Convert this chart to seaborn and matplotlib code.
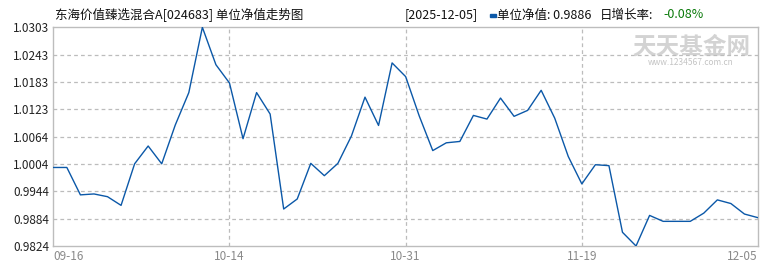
import matplotlib
matplotlib.use("Agg")
import matplotlib.pyplot as plt
import seaborn as sns
import pandas as pd
import numpy as np

# ---- data ----
nav = [0.9996, 0.9996, 0.9936, 0.9938, 0.9932, 0.9913, 1.0004, 1.0043, 1.0004, 1.0089,
       1.0160, 1.0303, 1.0221, 1.0181, 1.0059, 1.0160, 1.0113, 0.9905, 0.9927, 1.0005,
       0.9978, 1.0005, 1.0065, 1.0150, 1.0088, 1.0225, 1.0195, 1.0109, 1.0033, 1.0050,
       1.0053, 1.0110, 1.0102, 1.0148, 1.0108, 1.0121, 1.0165, 1.0104, 1.0020, 0.9960,
       1.0002, 1.0000, 0.9854, 0.9824, 0.9891, 0.9878, 0.9878, 0.9878, 0.9896, 0.9925,
       0.9917, 0.9894, 0.9886]
x_tick_pos = [0, 13, 26, 39, 52]
x_tick_labels = ["09-16", "10-14", "10-31", "11-19", "12-05"]
y_tick_labels = ["0.9824", "0.9884", "0.9944", "1.0004", "1.0064",
                 "1.0123", "1.0183", "1.0243", "1.0303"]
title = "东海价值臻选混合A[024683] 单位净值走势图"
date_text = "[2025-12-05]"
nav_text = "单位净值: 0.9886"
rate_label = "日增长率:"
rate_text = "-0.08%"

sns.set_style("white")
plt.rcParams['font.family'] = ['Noto Sans CJK SC', 'DejaVu Sans']

df = pd.DataFrame({"idx": np.arange(len(nav)), "nav": nav})

fig = plt.figure(figsize=(7.7, 2.7), dpi=100)
ax = fig.add_axes([53.3 / 770, 1 - 246 / 270, (758 - 53.3) / 770, (246 - 27.3) / 270])

y_ticks = [float(t) for t in y_tick_labels]
ymin, ymax = y_ticks[0], y_ticks[-1]
yt = np.linspace(ymin, ymax, len(y_tick_labels))

for v in yt[1:-1]:
    ax.axhline(v, color="#bcbcbc", lw=0.9, ls=(0, (3, 2.5)), zorder=1)
for p in x_tick_pos[1:-1]:
    ax.axvline(p, color="#bcbcbc", lw=0.9, ls=(0, (3, 2.5)), zorder=1)

sns.lineplot(data=df, x="idx", y="nav", ax=ax, color="#0b58a8", lw=1.0, zorder=3)

ax.set_xlim(0, len(nav) - 1)
ax.set_ylim(ymin, ymax)
ax.set_yticks(yt)
ax.set_yticklabels(y_tick_labels, fontsize=8.5, color="#222222")
ax.set_xticks(x_tick_pos)
ax.set_xticklabels(x_tick_labels, fontsize=8.5, color="#8a8a8a")
labs = ax.get_xticklabels()
labs[0].set_ha("left")
labs[-1].set_ha("right")
ax.tick_params(axis="both", length=0, pad=3)
ax.set_xlabel("")
ax.set_ylabel("")
for s in ax.spines.values():
    s.set_color("#bdbdbd")
    s.set_linewidth(1.0)

# watermark
ax.text(0.905, 0.912, "天天基金网", transform=ax.transAxes, ha="center", va="center",
        fontsize=17, color="#d3d3d3", fontweight="bold", zorder=0)
ax.text(0.905, 0.838, "www.1234567.com.cn", transform=ax.transAxes, ha="center", va="center",
        fontsize=6, color="#c4c4c4", zorder=0)

# header texts
fig.text(55 / 770, 1 - 15 / 270, title, fontsize=9, color="#111111", va="center", ha="left")
fig.text(405 / 770, 1 - 15 / 270, date_text, fontsize=9, color="#111111", va="center", ha="left")
fig.patches.append(plt.Rectangle((490 / 770, 1 - 16.5 / 270), 6 / 770, 3 / 270,
                                 transform=fig.transFigure, color="#0b58a8", figure=fig))
fig.text(497 / 770, 1 - 15 / 270, nav_text, fontsize=9, color="#111111", va="center", ha="left")
fig.text(600 / 770, 1 - 15 / 270, rate_label, fontsize=9, color="#111111", va="center", ha="left")
fig.text(663 / 770, 1 - 15 / 270, rate_text, fontsize=9, color="#0a7a0a", va="center", ha="left")

fig.savefig("out.png", dpi=100)
